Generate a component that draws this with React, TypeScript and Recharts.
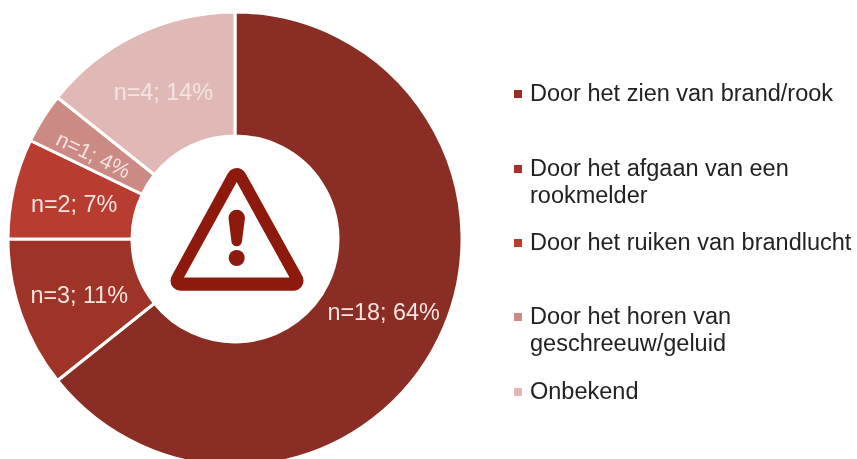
import React from "react";
import { PieChart, Pie, Cell, Legend } from "recharts";

const categories = [
  "Door het zien van brand/rook",
  "Door het afgaan van een rookmelder",
  "Door het ruiken van brandlucht",
  "Door het horen van geschreeuw/geluid",
  "Onbekend",
];
const counts = [18, 3, 2, 1, 4];
const percents = [64, 11, 7, 4, 14];
const colors = ["#8a2d24", "#9e3328", "#b83d30", "#cc8a85", "#e0b9b6"];
const legendColors = ["#982c24", "#a8322a", "#b83d30", "#cc8a85", "#e0b9b6"];
const labelRotations = [0, 0, 0, 26, 0];
const legendTops = [80, 155, 229, 303, 378];

const data = categories.map((name, i) => ({ name, value: counts[i], pct: percents[i] }));
const FONT = "'Liberation Sans', Arial, sans-serif";

const renderLabel = (p: any) => {
  const rad = (Math.PI / 180) * p.midAngle;
  const r = (p.innerRadius + p.outerRadius) / 2;
  const x = p.cx + r * Math.cos(rad) - (p.index === 3 ? 2 : 0);
  const y = p.cy - r * Math.sin(rad) + (p.index === 3 ? 4 : 1.5);
  const rot = labelRotations[p.index];
  return (
    <text
      x={x}
      y={y}
      fill="#f3e4e1"
      fontSize={p.index === 3 ? 21.5 : 23.4}
      fontFamily={FONT}
      textAnchor="middle"
      dominantBaseline="central"
      transform={rot ? `rotate(${rot} ${x} ${y})` : undefined}
    >
      {`n=${p.payload.value}; ${p.payload.pct}%`}
    </text>
  );
};

const renderLegend = (props: any) => (
  <div style={{ position: "relative", width: 857, height: 459 }}>
    {(props.payload || []).map((entry: any, i: number) => (
      <div
        key={entry.value}
        style={{
          position: "absolute",
          left: 530,
          top: legendTops[i],
          width: 326,
          fontFamily: FONT,
          fontSize: 23.5,
          lineHeight: "27px",
          color: "#222222",
          textAlign: "left",
        }}
      >
        <span
          style={{
            position: "absolute",
            left: -16,
            top: 10,
            width: 8,
            height: 8,
            background: legendColors[i],
          }}
        />
        {entry.value}
      </div>
    ))}
  </div>
);

export default function App() {
  return (
    <div style={{ position: "absolute", left: 0, top: 0, width: 857, height: 459, overflow: "hidden", filter: "blur(0.5px)" }}>
      <PieChart width={857} height={459} margin={{ top: 0, right: 0, bottom: 0, left: 0 }}>
        <Pie
          data={data}
          dataKey="value"
          nameKey="name"
          cx={235}
          cy={239}
          innerRadius={103}
          outerRadius={227}
          startAngle={90}
          endAngle={-270}
          stroke="#ffffff"
          strokeWidth={3}
          label={renderLabel}
          labelLine={false}
          isAnimationActive={false}
        >
          {data.map((d, i) => (
            <Cell key={d.name} fill={colors[i]} />
          ))}
        </Pie>
        <Legend
          content={renderLegend}
          itemSorter={null}
          layout="vertical"
          wrapperStyle={{ position: "absolute", left: 0, top: 0, width: 857, height: 459, margin: 0 }}
        />
        <g>
          <path
            d="M236.7 178 L293.5 280.7 L180.5 280.7 Z"
            fill="#8e1a0e"
            stroke="#8e1a0e"
            strokeWidth={20}
            strokeLinejoin="round"
          />
          <path d="M236.7 182 L289.5 277.5 L184 277.5 Z" fill="#ffffff" />
          <path
            d="M228.5 218 A8.2 8.2 0 0 1 245 218 L242 241 A5.3 5.3 0 0 1 231.4 241 Z"
            fill="#8e1a0e"
          />
          <circle cx={236.7} cy={258} r={8} fill="#8e1a0e" />
        </g>
      </PieChart>
    </div>
  );
}
